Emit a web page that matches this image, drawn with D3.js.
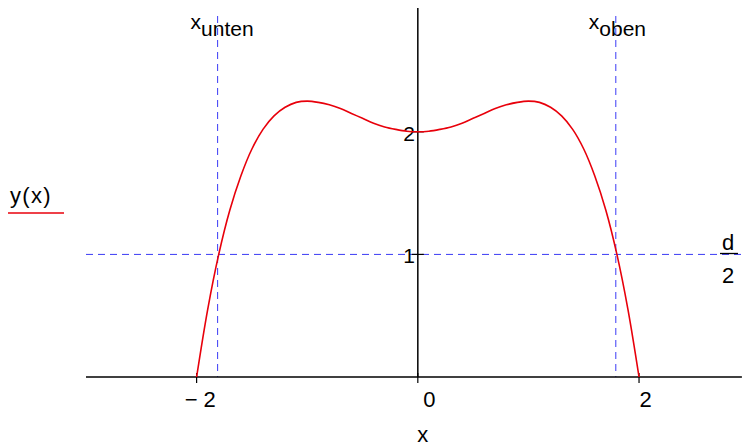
<!DOCTYPE html>
<html>
<head>
<meta charset="utf-8">
<script src="https://cdn.jsdelivr.net/npm/d3@7"></script>
<style>
  html, body { margin: 0; padding: 0; background: #fff; }
  svg { display: block; font-family: "Liberation Sans", Arial, sans-serif; }
</style>
</head>
<body>
<svg id="chart" width="742" height="446"></svg>
<script>
// y(x) sampled along the curve
const xs = [-2.0, -1.9, -1.8, -1.7, -1.6, -1.5, -1.4, -1.3, -1.2, -1.1, -1.0,
            -0.9, -0.8, -0.7, -0.6, -0.5, -0.4, -0.3, -0.2, -0.1, 0.0,
             0.1, 0.2, 0.3, 0.4, 0.5, 0.6, 0.7, 0.8, 0.9, 1.0,
             1.1, 1.2, 1.3, 1.4, 1.5, 1.6, 1.7, 1.8, 1.9, 2.0];
const ys = [0.00, 0.55, 1.00, 1.36, 1.64, 1.86, 2.02, 2.13, 2.20, 2.24, 2.25,
            2.24, 2.22, 2.19, 2.15, 2.11, 2.07, 2.04, 2.02, 2.005, 2.00,
            2.005, 2.02, 2.04, 2.07, 2.11, 2.15, 2.19, 2.22, 2.24, 2.25,
            2.24, 2.20, 2.13, 2.02, 1.86, 1.64, 1.36, 1.00, 0.55, 0.00];

// marker lines
const xMarkers = [-1.81, 1.79];
const xMarkerLabels = [["x", "unten"], ["x", "oben"]];
const yMarker = 1;

// axis ticks
const xTicks = [-2, 0, 2];
const xTickLabels = ["\u2212\u20092", "0", "2"];
const yTicks = [1, 2];
const yTickLabels = ["1", "2"];

const svg = d3.select("#chart");
const xMin = -3.0, xMax = 2.93, yMax = 3.01;
const x = d3.scaleLinear().domain([xMin, xMax]).range([86, 741.9]);
const y = d3.scaleLinear().domain([0, yMax]).range([377, 8]);

const blue = "#3b3bf5";
const red = "#e8000b";
const dash = "7,5";

// horizontal dashed line at d/2
svg.append("line")
  .attr("x1", x(xMin)).attr("x2", x(xMax))
  .attr("y1", y(yMarker)).attr("y2", y(yMarker))
  .attr("stroke", blue).attr("stroke-width", 1).attr("stroke-dasharray", dash);

// vertical dashed lines at x_unten / x_oben
svg.selectAll("line.vm").data(xMarkers).join("line")
  .attr("class", "vm")
  .attr("x1", d => x(d)).attr("x2", d => x(d))
  .attr("y1", 16).attr("y2", y(0))
  .attr("stroke", blue).attr("stroke-width", 1).attr("stroke-dasharray", dash);

// axes
svg.append("line")
  .attr("x1", x(xMin)).attr("x2", x(xMax))
  .attr("y1", y(0)).attr("y2", y(0))
  .attr("stroke", "#000").attr("stroke-width", 1.5);
svg.append("line")
  .attr("x1", x(0)).attr("x2", x(0))
  .attr("y1", y(yMax)).attr("y2", y(0))
  .attr("stroke", "#000").attr("stroke-width", 1.5);

// tick marks
svg.selectAll("line.xt").data(xTicks).join("line")
  .attr("class", "xt")
  .attr("x1", d => x(d)).attr("x2", d => x(d))
  .attr("y1", y(0) - 4).attr("y2", y(0) + 6)
  .attr("stroke", "#000").attr("stroke-width", 1.2);
svg.selectAll("line.yt").data(yTicks).join("line")
  .attr("class", "yt")
  .attr("x1", x(0) - 6).attr("x2", x(0) + 6)
  .attr("y1", d => y(d)).attr("y2", d => y(d))
  .attr("stroke", "#000").attr("stroke-width", 1.2);

// tick labels
const xLabelDx = [4, 12, 7];
svg.selectAll("text.xl").data(xTicks).join("text")
  .attr("class", "xl")
  .attr("x", (d, i) => x(d) + xLabelDx[i]).attr("y", 407)
  .attr("text-anchor", "middle").attr("font-size", 22).attr("letter-spacing", 0.8)
  .text((d, i) => xTickLabels[i]);
svg.selectAll("text.yl").data(yTicks).join("text")
  .attr("class", "yl")
  .attr("x", x(0) - 3).attr("y", d => y(d) + 9)
  .attr("text-anchor", "end").attr("font-size", 21)
  .text((d, i) => yTickLabels[i]);

// curve
const pts = xs.map((v, i) => [v, ys[i]]);
svg.append("path")
  .datum(pts)
  .attr("fill", "none").attr("stroke", red).attr("stroke-width", 1.6)
  .attr("d", d3.line().x(d => x(d[0])).y(d => y(d[1])).curve(d3.curveCatmullRom.alpha(0.5)));

// axis title
svg.append("text").attr("x", x(0) + 5).attr("y", 442)
  .attr("text-anchor", "middle").attr("font-size", 22).text("x");

// legend
svg.append("text").attr("x", 10).attr("y", 203).attr("font-size", 22)
  .attr("letter-spacing", 1.3).text("y(x)");
svg.append("line").attr("x1", 8).attr("x2", 64).attr("y1", 213).attr("y2", 213)
  .attr("stroke", red).attr("stroke-width", 1.6);

// marker labels
xMarkerLabels.forEach((lab, i) => {
  const t = svg.append("text")
    .attr("x", x(xMarkers[i]) - 27).attr("y", 29).attr("font-size", 21);
  t.append("tspan").text(lab[0]);
  t.append("tspan").attr("dy", 7).text(lab[1]);
});

// d/2 fraction label
svg.append("text").attr("x", 728).attr("y", 250).attr("text-anchor", "middle")
  .attr("font-size", 22).text("d");
svg.append("line").attr("x1", 720).attr("x2", 738).attr("y1", 253.5).attr("y2", 253.5)
  .attr("stroke", "#000").attr("stroke-width", 1.3);
svg.append("text").attr("x", 728).attr("y", 283).attr("text-anchor", "middle")
  .attr("font-size", 22).text("2");
</script>
</body>
</html>
